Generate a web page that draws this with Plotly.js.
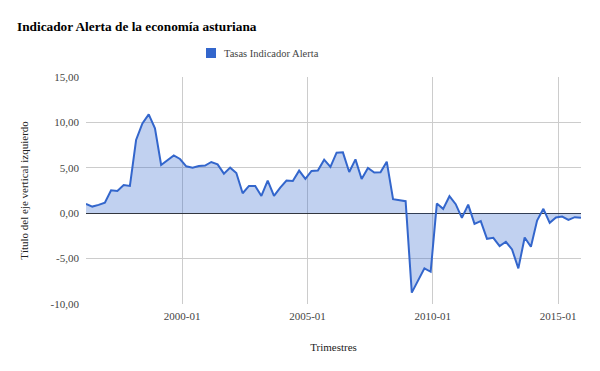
<!DOCTYPE html>
<html>
<head>
<meta charset="utf-8">
<script src="https://cdn.plot.ly/plotly-3.0.1.min.js"></script>
<style>html,body{margin:0;padding:0;background:#fff;}#chart{width:600px;height:371px;}</style>
</head>
<body>
<div id="chart"></div>
<script>
// Data: quarterly series, first quarter 1996 (dated at last month of quarter) to 2015 Q4
const seriesName = 'Tasas Indicador Alerta';
const startYear = 1996;
const values = [
  1.03, 0.73, 0.92, 1.17, 2.53, 2.45, 3.11, 3.00, 8.06, 9.89,
  10.88, 9.34, 5.31, 5.86, 6.37, 5.97, 5.16, 5.02, 5.20, 5.24,
  5.64, 5.38, 4.36, 5.02, 4.43, 2.20, 3.00, 3.00, 1.90, 3.59,
  1.90, 2.82, 3.59, 3.55, 4.69, 3.77, 4.65, 4.69, 5.90, 5.11,
  6.67, 6.70, 4.54, 5.93, 3.77, 4.98, 4.47, 4.50, 5.68, 1.54,
  1.43, 1.32, -8.75, -7.47, -6.08, -6.45, 1.06, 0.48, 1.87, 0.99,
  -0.51, 0.95, -1.17, -0.88, -2.82, -2.71, -3.63, -3.15, -3.99, -6.08,
  -2.67, -3.70, -0.81, 0.48, -1.06, -0.48, -0.37, -0.73, -0.44, -0.51
];
const xTickVals = ['2000-01-01', '2005-01-01', '2010-01-01', '2015-01-01'];
const xTickLabels = ['2000-01', '2005-01', '2010-01', '2015-01'];
const yTickVals = [-10, -5, 0, 5, 10, 15];
const yTickLabels = ['-10,00', '-5,00', '0,00', '5,00', '10,00', '15,00'];

const quarters = values.map((v, i) => {
  const m = 3 + 3 * i; // months from Jan of startYear (March, June, Sept, Dec)
  const y = startYear + Math.floor((m - 1) / 12);
  const mm = ((m - 1) % 12) + 1;
  return y + '-' + String(mm).padStart(2, '0') + '-01';
});

const serif = "'Liberation Serif', 'Times New Roman', serif";
const L = 86, R = 581, T = 77, B = 304;
const px = p => (p - L) / (R - L);
const py = p => (B - p) / (B - T);

const trace = {
  x: quarters,
  y: values,
  type: 'scatter',
  mode: 'lines',
  name: seriesName,
  line: {color: '#3366cc', width: 2},
  fill: 'tozeroy',
  fillcolor: 'rgba(51,102,204,0.3)',
  hoverinfo: 'x+y'
};

const layout = {
  width: 600, height: 371,
  margin: {l: L, r: 600 - R, t: T, b: 371 - B, pad: 0},
  paper_bgcolor: '#fff', plot_bgcolor: '#fff',
  showlegend: false,
  font: {family: serif, size: 11, color: '#444'},
  title: {
    text: '<b>Indicador Alerta de la economía asturiana</b>',
    xref: 'container', yref: 'container',
    x: 17 / 600, xanchor: 'left',
    y: 1 - 26 / 371, yanchor: 'middle',
    font: {family: serif, size: 13.3, color: '#000'}
  },
  xaxis: {
    type: 'date',
    range: [quarters[0], quarters[quarters.length - 1]],
    tickmode: 'array', tickvals: xTickVals, ticktext: xTickLabels,
    showgrid: true, gridcolor: '#cccccc', gridwidth: 1,
    zeroline: false, showline: false, ticks: '',
    ticklabelstandoff: 4,
    tickfont: {family: serif, size: 11, color: '#444'},
    title: {text: 'Trimestres', font: {family: serif, size: 11, color: '#222'}, standoff: 22}
  },
  yaxis: {
    range: [-10, 15],
    tickmode: 'array', tickvals: yTickVals, ticktext: yTickLabels,
    showgrid: true, gridcolor: '#cccccc', gridwidth: 1,
    zeroline: true, zerolinecolor: '#333333', zerolinewidth: 1,
    showline: false, ticks: '',
    ticklabelstandoff: 6,
    tickfont: {family: serif, size: 11, color: '#444'},
    title: {text: 'Título del eje vertical izquierdo', font: {family: serif, size: 11, color: '#222'}, standoff: 19}
  },
  shapes: [{
    type: 'rect', xref: 'paper', yref: 'paper',
    x0: px(206), x1: px(216), y0: py(58), y1: py(48),
    fillcolor: '#3366cc', line: {width: 0}
  }],
  annotations: [{
    xref: 'paper', yref: 'paper',
    x: px(222), y: py(53), xanchor: 'left', yanchor: 'middle',
    text: seriesName, showarrow: false,
    font: {family: serif, size: 10.5, color: '#444'}
  }]
};

Plotly.newPlot('chart', [trace], layout, {displayModeBar: false, staticPlot: true});
</script>
</body>
</html>
